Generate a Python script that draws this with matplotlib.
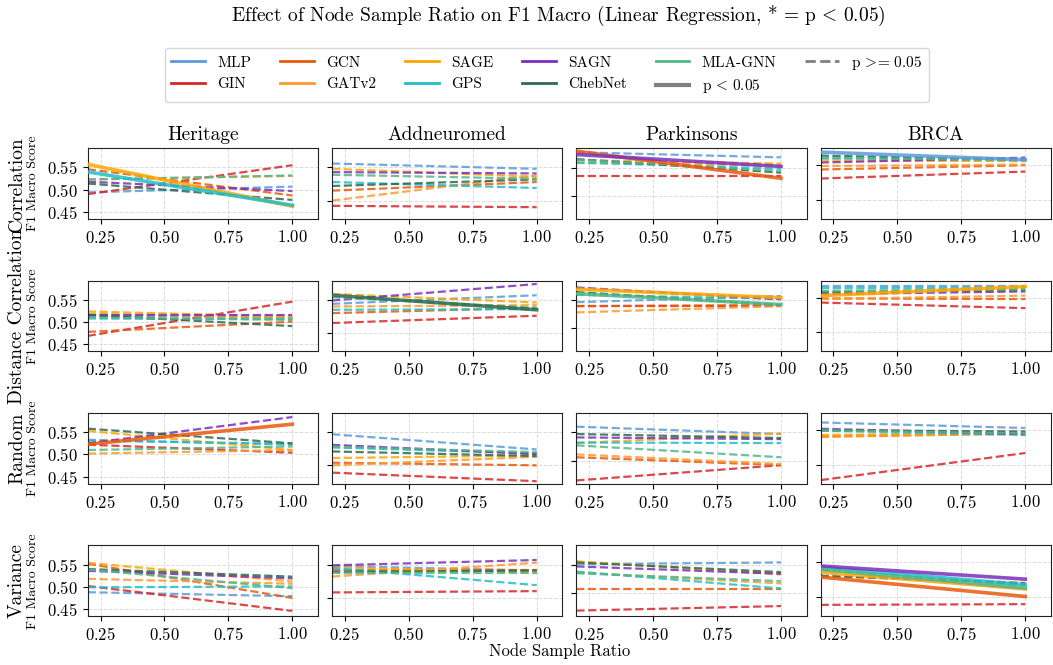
import matplotlib
matplotlib.use("Agg")
import matplotlib.pyplot as plt
from matplotlib.lines import Line2D

plt.rcParams['font.family'] = 'serif'
plt.rcParams['font.serif'] = ['cmr10']
plt.rcParams['mathtext.fontset'] = 'cm'
plt.rcParams['axes.formatter.use_mathtext'] = True

# Models, datasets and selection methods
models = ["MLP", "GIN", "GCN", "GATv2", "SAGE", "GPS", "SAGN", "ChebNet", "MLA-GNN"]
colors = ["#5b9bd9", "#d62728", "#e8590c", "#fb9a2c", "#ffa500",
          "#1fbfc8", "#7b2fbe", "#2d6a4f", "#52b788"]
datasets = ["Heritage", "Addneuromed", "Parkinsons", "BRCA"]
methods = ["Correlation", "Distance Correlation", "Random", "Variance"]
ratio_ends = [0.2, 1.0]

# fitted F1 macro at ratio 0.2 / 1.0, one list of 9 models per dataset
corr_start = [[.494, .490, .546, .523, .557, .540, .518, .514, .523],
              [.556, .492, .515, .500, .548, .528, .543, .522, .539],
              [.577, .535, .579, .558, .563, .559, .573, .565, .564],
              [.569, .531, .544, .549, .557, .560, .554, .564, .561]]
corr_end = [[.507, .555, .487, .531, .463, .465, .497, .477, .532],
            [.548, .490, .528, .538, .536, .519, .541, .532, .533],
            [.568, .535, .531, .554, .557, .548, .552, .541, .544],
            [.558, .541, .550, .551, .556, .558, .561, .558, .557]]
corr_sig = [["SAGE", "GPS"], [], ["GCN", "SAGN"], ["MLP"]]

dcor_start = [[.513, .469, .478, .519, .524, .508, .516, .516, .510],
              [.544, .515, .530, .540, .559, .535, .549, .557, .554],
              [.546, .540, .539, .528, .569, .559, .572, .564, .561],
              [.567, .543, .549, .548, .553, .564, .555, .558, .560]]
dcor_end = [[.512, .546, .501, .508, .512, .507, .516, .491, .505],
            [.557, .526, .538, .542, .546, .536, .574, .535, .538],
            [.557, .540, .541, .539, .554, .552, .551, .541, .542],
            [.567, .535, .548, .553, .566, .564, .559, .561, .562]]
dcor_sig = [[], ["ChebNet"], ["SAGE", "MLA-GNN"], ["SAGE"]]

rand_start = [[.533, .522, .523, .502, .553, .531, .525, .558, .510],
              [.547, .489, .504, .500, .511, .527, .531, .521, .528],
              [.560, .465, .506, .511, .531, .532, .541, .547, .527],
              [.561, .478, .541, .540, .543, .549, .552, .550, .550]]
rand_end = [[.522, .504, .568, .510, .510, .524, .584, .525, .518],
            [.524, .476, .500, .513, .515, .518, .517, .514, .520],
            [.547, .492, .492, .494, .548, .531, .538, .540, .506],
            [.553, .517, .545, .545, .546, .543, .544, .548, .545]]
rand_sig = [["GCN"], [], [], []]

var_start = [[.488, .502, .552, .518, .554, .499, .536, .540, .539],
             [.548, .508, .542, .532, .546, .545, .549, .539, .538],
             [.551, .469, .508, .536, .556, .538, .547, .554, .535],
             [.540, .489, .529, .530, .536, .543, .545, .531, .540]]
var_end = [[.479, .446, .475, .507, .512, .501, .519, .523, .497],
           [.541, .510, .542, .553, .538, .519, .557, .541, .538],
           [.554, .477, .508, .517, .533, .508, .534, .537, .521],
           [.517, .490, .501, .521, .512, .518, .526, .520, .513]]
var_sig = [[], [], [], ["SAGN", "GPS", "MLA-GNN", "SAGE", "GCN"]]

col_ylims = [(0.434, 0.593), (0.472, 0.579), (0.459, 0.584), (0.4726, 0.5745)]

starts = [corr_start, dcor_start, rand_start, var_start]
ends = [corr_end, dcor_end, rand_end, var_end]
sigs = [corr_sig, dcor_sig, rand_sig, var_sig]

fig, axes = plt.subplots(4, 4, figsize=(10.53, 6.65), dpi=100, sharey='col')
fig.subplots_adjust(left=0.0833, right=0.998, top=0.777, bottom=0.0733,
                    wspace=0.061, hspace=0.87)

for r in range(4):
    for c in range(4):
        ax = axes[r][c]
        for m, name in enumerate(models):
            solid = name in sigs[r][c]
            ax.plot(ratio_ends, [starts[r][c][m], ends[r][c][m]],
                    color=colors[m], linestyle='-' if solid else '--',
                    linewidth=2.6 if solid else 1.6, alpha=0.85,
                    zorder=3 if solid else 2)
        ax.set_xlim(0.2, 1.1)
        ax.set_ylim(*col_ylims[c])
        ax.set_xticks([0.25, 0.5, 0.75, 1.0])
        ax.set_yticks([0.45, 0.50, 0.55] if c == 0 else [0.50, 0.55])
        ax.tick_params(labelsize=12)
        ax.grid(True, linestyle='--', color='#cccccc', linewidth=0.7, alpha=0.7)
        for s in ax.spines.values():
            s.set_color('#222222')
        if c > 0:
            ax.tick_params(labelleft=False)
        if r == 0:
            ax.set_title(datasets[c], fontsize=14)
        if c == 0:
            ax.text(-0.307, 0.5, methods[r], transform=ax.transAxes, rotation=90,
                    ha='center', va='center', fontsize=14)
            ax.text(-0.2375, 0.5, "F1 Macro Score", transform=ax.transAxes,
                    rotation=90, ha='center', va='center', fontsize=10)

fig.text(0.53, 1 - 15 / 665,
         r"Effect of Node Sample Ratio on F1 Macro (Linear Regression, * = p$\,<\,$0.05)",
         ha='center', va='center', fontsize=14)
fig.text(560 / 1053, 1 - 651 / 665, "Node Sample Ratio", ha='center', va='center', fontsize=12)

handles = [Line2D([], [], color=colors[i], linewidth=2) for i in range(len(models))]
labels = list(models)
handles.append(Line2D([], [], color='gray', linewidth=3))
labels.append(r"p$\,<\,$0.05")
handles.append(Line2D([], [], color='gray', linewidth=2, linestyle='--'))
labels.append(r"p$\,>\!\!=\,$0.05")
fig.legend(handles, labels, loc='upper center', bbox_to_anchor=(547 / 1053, 1 - 40 / 665),
           ncol=6, fontsize=11, handlelength=2.2, columnspacing=1.9, frameon=True)

fig.savefig("out.png", dpi=100)
